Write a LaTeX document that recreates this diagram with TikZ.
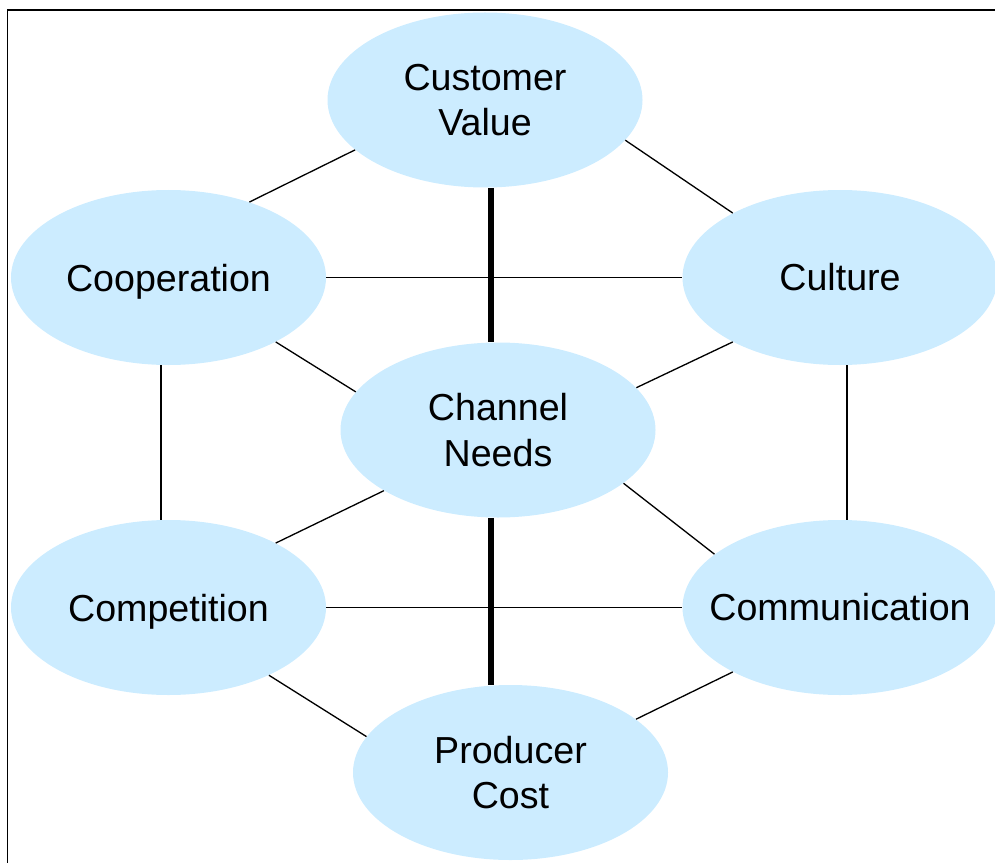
\documentclass[tikz,border=0pt]{standalone}
\usepackage{fontspec}
\setmainfont{Liberation Sans}
\usepackage{xcolor}
\usetikzlibrary{shapes.geometric}
\definecolor{celeste}{HTML}{CCECFF}

\begin{document}
\begin{tikzpicture}[
    elipse/.style={ellipse,fill=celeste,minimum width=6.3cm,minimum height=3.5cm,inner sep=0pt,align=center,font=\fontsize{21.4}{26}\selectfont},
    fino/.style={line width=0.75pt},
    grueso/.style={line width=3.4pt}]
            \useasboundingbox (0,0) rectangle (19.9,-17.24);
            \draw[line width=1.1pt] (0.15,-17.3) -- (0.15,-0.2) -- (20,-0.2); % marco
            % elipses
            \node[elipse] (cv) at (9.70,-2.00) {Customer\\Value};
            \node[elipse,text depth=0pt] (coop) at (3.37,-5.55) {Cooperation};
            \node[elipse] (cult) at (16.80,-5.55) {Culture};
            \node[elipse] (cn) at (9.96,-8.60) {Channel\\Needs};
            \node[elipse,text depth=0pt] (comp) at (3.37,-12.15) {Competition};
            \node[elipse,inner xsep=-0.5cm] (comm) at (16.80,-12.15) {Communication};
            \node[elipse] (pc) at (10.21,-15.45) {Producer\\Cost};
            \coordinate (eje) at (9.82,0);
            \coordinate (izq) at (3.22,0);
            \coordinate (der) at (16.94,0);
            % conexiones
            \draw[grueso] (cv.south -| eje) -- (cn.north -| eje);
            \draw[grueso] (cn.south -| eje) -- (pc.north -| eje);
            \draw[fino] (cv.201) -- (coop.43);
            \draw[fino] (cv.344) -- (cult.149);
            \draw[fino] (coop) -- (cult);
            \draw[fino] (coop.329) -- (cn.165);
            \draw[fino] (cult.211) -- (cn.17);
            \draw[fino] (coop.south -| izq) -- (comp.north -| izq);
            \draw[fino] (cult.south -| der) -- (comm.north -| der);
            \draw[fino] (cn.208) -- (comp.31);
            \draw[fino] (cn.337) -- (comm.157);
            \draw[fino] (comp) -- (comm);
            \draw[fino] (comp.326) -- (pc.166);
            \draw[fino] (comm.211) -- (pc.23);
\end{tikzpicture}
\end{document}
